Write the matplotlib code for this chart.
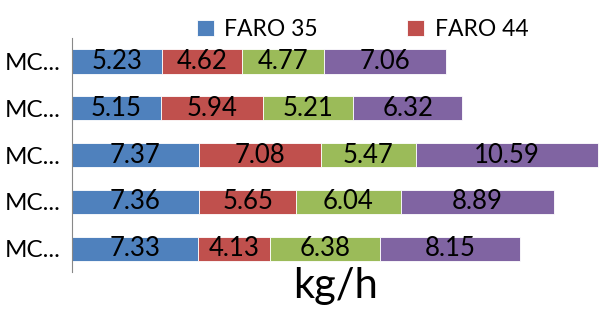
import matplotlib.pyplot as plt
import numpy as np

plt.rcParams['font.family'] = ['Lato', 'DejaVu Sans']

# 数据（从上到下）
categories = ['MC...', 'MC...', 'MC...', 'MC...', 'MC...']
faro35 = [5.23, 5.15, 7.37, 7.36, 7.33]
faro44 = [4.62, 5.94, 7.08, 5.65, 4.13]
serie3 = [4.77, 5.21, 5.47, 6.04, 6.38]
serie4 = [7.06, 6.32, 10.59, 8.89, 8.15]
series_names = ['FARO 35', 'FARO 44', '', '']
colors = ['#4F81BD', '#C0504D', '#9BBB59', '#8064A2']

fig = plt.figure(figsize=(5.99, 3.11), dpi=100)
ax = fig.add_axes([0.120, 0.125, 0.880, 0.753])

y = np.arange(len(categories))
left = np.zeros(len(categories))
bars = []
for vals, c in zip([faro35, faro44, serie3, serie4], colors):
    b = ax.barh(y, vals, left=left, height=0.52, color=c,
                edgecolor='white', linewidth=0.6)
    for yi, l, v in zip(y, left, vals):
        ax.text(l + v / 2, yi, '%.2f' % v, ha='center', va='center',
                fontsize=18.5, color='black')
    bars.append(b)
    left = left + np.array(vals)

ax.set_ylim(len(categories) - 0.5, -0.5)
ax.set_xlim(0, 30.55)
ax.set_yticks(y)
ax.set_yticklabels(categories, fontsize=17.5)
ax.tick_params(axis='y', length=0, pad=8)
ax.set_xticks([])
for name, spine in ax.spines.items():
    spine.set_visible(name == 'left')
ax.spines['left'].set_color('#888888')
ax.set_xlabel('kg/h', fontsize=30, labelpad=-4)

fig.legend(bars[:2], series_names[:2], loc='center', ncol=2,
           bbox_to_anchor=(0.605, 0.905), frameon=False, fontsize=16.5,
           handlelength=0.75, handleheight=0.75, handletextpad=0.45,
           columnspacing=3.9)

plt.savefig('out.png', dpi=100)
